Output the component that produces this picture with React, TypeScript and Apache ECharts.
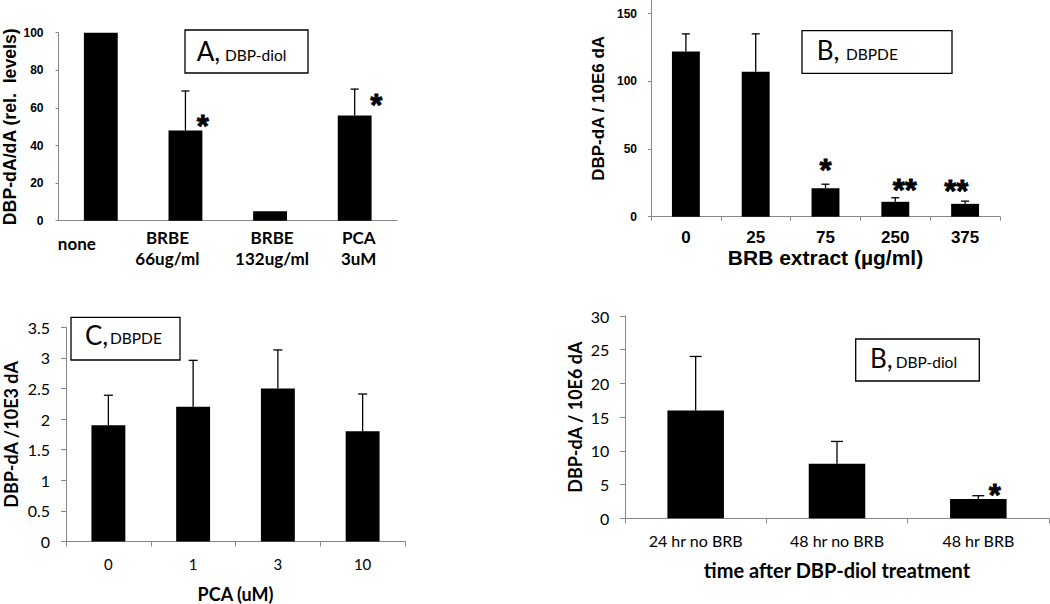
import React, { useEffect, useRef } from "react";
import * as echarts from "echarts";

// ---------- Panel A ----------
const aCategories = ["none", "BRBE\n66ug/ml", "BRBE\n132ug/ml", "PCA\n3uM"];
const aValues = [100, 48, 5, 56];
const aErrors = [0, 21, 0, 14];
const aStars = ["", "*", "", "*"];
const aYTitle = "DBP-dA/dA (rel.  levels)";
const aBoxLetter = "A,";
const aBoxText = "DBP-diol";

// ---------- Panel B (top right) ----------
const bCategories = ["0", "25", "75", "250", "375"];
const bValues = [122, 107, 21, 11, 9.5];
const bErrors = [13, 28, 3, 3, 2];
const bStars = ["", "", "*", "**", "**"];
const bYTicks = [0, 50, 100, 150];
const bYTitle = "DBP-dA / 10E6 dA";
const bXTitle = "BRB extract (\u00b5g/ml)";
const bBoxLetter = "B,";
const bBoxText = "DBPDE";

// ---------- Panel C ----------
const cCategories = ["0", "1", "3", "10"];
const cValues = [1.9, 2.2, 2.5, 1.8];
const cErrors = [0.49, 0.76, 0.63, 0.61];
const cYTitle = "DBP-dA /10E3 dA";
const cXTitle = "PCA (uM)";
const cBoxLetter = "C,";
const cBoxText = "DBPDE";

// ---------- Panel D (bottom right) ----------
const dCategories = ["24 hr no BRB", "48 hr no BRB", "48 hr BRB"];
const dValues = [16, 8.1, 2.85];
const dErrors = [8, 3.3, 0.5];
const dStars = ["", "", "*"];
const dYTitle = "DBP-dA / 10E6 dA";
const dXTitle = "time after DBP-diol treatment";
const dBoxLetter = "B,";
const dBoxText = "DBP-diol";

const AXIS_GRAY = "#878787";
const ARIAL = "Liberation Sans, Arial, sans-serif";
const CALI = "Lato, Open Sans, sans-serif";

function errorSeries(idx: number, values: number[], errors: number[], cap: number) {
  return {
    type: "custom",
    xAxisIndex: idx,
    yAxisIndex: idx,
    z: 5,
    silent: true,
    data: values
      .map((v, i) => [i, v, v + errors[i]])
      .filter((d) => d[2] > d[1]),
    encode: { x: 0, y: [1, 2] },
    renderItem: (params: any, api: any) => {
      const b = api.coord([api.value(0), api.value(1)]);
      const t = api.coord([api.value(0), api.value(2)]);
      const st = { stroke: "#000", lineWidth: 1.3 };
      return {
        type: "group",
        children: [
          { type: "line", shape: { x1: b[0], y1: b[1], x2: t[0], y2: t[1] }, style: st },
          { type: "line", shape: { x1: t[0] - cap, y1: t[1], x2: t[0] + cap, y2: t[1] }, style: st },
        ],
      };
    },
  };
}

function starSeries(idx: number, values: number[], stars: string[], offsets: number[][]) {
  const data: any[] = [];
  values.forEach((v, i) => {
    if (stars[i]) {
      data.push({
        value: [i, v, stars[i]],
        label: { offset: offsets[i] },
      });
    }
  });
  const starLabel = {
    show: true,
    position: "inside",
    formatter: (p: any) => p.data.value[2],
    fontFamily: ARIAL,
    fontWeight: "bold",
    fontSize: 31,
    color: "#000",
    opacity: 1,
    textBorderColor: "#000",
    textBorderWidth: 0.8,
    align: "center",
    verticalAlign: "middle",
  };
  return {
    type: "scatter",
    xAxisIndex: idx,
    yAxisIndex: idx,
    z: 6,
    silent: true,
    symbolSize: 0,
    color: "#000",
    itemStyle: { color: "#000" },
    data,
    label: starLabel,
    emphasis: { disabled: true },
  };
}

function barSeries(idx: number, values: number[]) {
  return {
    type: "bar",
    xAxisIndex: idx,
    yAxisIndex: idx,
    barWidth: "40%",
    itemStyle: { color: "#000" },
    data: values,
    z: 2,
  };
}

function box(x: number, y: number, w: number, h: number, letter: string, text: string,
  lx: number, tx: number, baseline: number, bigSize: number, smallSize: number) {
  return {
    type: "group",
    children: [
      { type: "rect", shape: { x, y, width: w, height: h }, style: { fill: "#fff", stroke: "#000", lineWidth: 1.3 } },
      {
        type: "text", x: lx, y: baseline - 0.36 * bigSize,
        style: { text: letter, font: `${bigSize}px ${CALI}`, fill: "#000", align: "left", verticalAlign: "middle" },
      },
      {
        type: "text", x: tx, y: baseline - 0.36 * smallSize,
        style: { text: text, font: `${smallSize}px ${CALI}`, fill: "#000", align: "left", verticalAlign: "middle" },
      },
    ],
  };
}

const aLabelPad = [[6, 48, 0, 0], [0, 36, 0, 0], [0, 0, 0, 4], [0, 0, 0, 8]];

export default function App() {
  const ref = useRef<HTMLDivElement>(null);
  useEffect(() => {
    if (!ref.current) return;
    const chart = echarts.init(ref.current, null, { renderer: "svg" });
    const axisLine = { show: true, lineStyle: { color: AXIS_GRAY, width: 1 } };
    const option: any = {
      animation: false,
      backgroundColor: "#fff",
      color: ["#000"],
      grid: [
        { left: 58, top: 32.7, width: 339, height: 188 },
        { left: 651, top: 0, width: 349, height: 216.7 },
        { left: 66, top: 327.3, width: 339, height: 215 },
        { left: 625, top: 316, width: 424, height: 202.3 },
      ],
      xAxis: [
        {
          type: "category", gridIndex: 0,
          data: aCategories.map((c, i) => ({ value: c, textStyle: { padding: aLabelPad[i] } })),
          axisLine, axisTick: { show: false },
          axisLabel: {
            margin: 6.6, verticalAlign: "top", lineHeight: 20.5, interval: 0,
            fontFamily: CALI, fontWeight: "bold", fontSize: 17, color: "#000",
          },
        },
        {
          type: "category", gridIndex: 1, data: bCategories,
          axisLine, axisTick: { show: true, length: 4, lineStyle: { color: AXIS_GRAY } },
          axisLabel: { margin: 12, fontFamily: ARIAL, fontWeight: "bold", fontSize: 17, color: "#000" },
          name: bXTitle, nameLocation: "middle", nameGap: 30, nameMoveOverlap: false,
          nameTextStyle: { fontFamily: ARIAL, fontWeight: "bold", fontSize: 21, color: "#000" },
        },
        {
          type: "category", gridIndex: 2, data: cCategories,
          axisLine, axisTick: { show: true, length: 5, lineStyle: { color: AXIS_GRAY } },
          axisLabel: { margin: 14.5, fontFamily: CALI, fontSize: 15, color: "#000" },
          name: cXTitle, nameLocation: "middle", nameGap: 43.5, nameMoveOverlap: false,
          nameTextStyle: { fontFamily: CALI, fontWeight: "bold", fontSize: 18, color: "#000" },
        },
        {
          type: "category", gridIndex: 3, data: dCategories,
          axisLine, axisTick: { show: true, length: 5, lineStyle: { color: AXIS_GRAY } },
          axisLabel: { margin: 14, fontFamily: CALI, fontSize: 16, color: "#000" },
          name: dXTitle, nameLocation: "middle", nameGap: 42, nameMoveOverlap: false,
          nameTextStyle: { fontFamily: CALI, fontWeight: "bold", fontSize: 20, color: "#000" },
        },
      ],
      yAxis: [
        {
          type: "value", gridIndex: 0, min: 0, max: 100, interval: 20,
          axisLine, axisTick: { show: true, length: 3, lineStyle: { color: AXIS_GRAY } },
          splitLine: { show: false },
          axisLabel: { margin: 15, fontFamily: ARIAL, fontWeight: "bold", fontSize: 12, color: "#000" },
          name: aYTitle, nameLocation: "middle", nameRotate: 90, nameGap: 39.5, nameMoveOverlap: false,
          nameTextStyle: { fontFamily: ARIAL, fontWeight: "bold", fontSize: 17.7, color: "#000" },
        },
        {
          type: "value", gridIndex: 1, min: 0, max: 160,
          axisLine, axisTick: { show: true, length: 3, customValues: bYTicks, lineStyle: { color: AXIS_GRAY } },
          splitLine: { show: false },
          axisLabel: { margin: 14, customValues: bYTicks, fontFamily: ARIAL, fontWeight: "bold", fontSize: 12, color: "#000" },
          name: bYTitle, nameLocation: "middle", nameRotate: 90, nameGap: 44.5, nameMoveOverlap: false,
          nameTextStyle: { fontFamily: ARIAL, fontWeight: "bold", fontSize: 17, color: "#000" },
        },
        {
          type: "value", gridIndex: 2, min: 0, max: 3.5, interval: 0.5,
          axisLine, axisTick: { show: true, length: 5, lineStyle: { color: AXIS_GRAY } },
          splitLine: { show: false },
          axisLabel: { margin: 16, fontFamily: CALI, fontSize: 16, color: "#000" },
          name: cYTitle, nameLocation: "middle", nameRotate: 90, nameGap: 46.5, nameMoveOverlap: false,
          nameTextStyle: { fontFamily: CALI, fontWeight: "bold", fontSize: 18, color: "#000" },
        },
        {
          type: "value", gridIndex: 3, min: 0, max: 30, interval: 5,
          axisLine, axisTick: { show: true, length: 5, lineStyle: { color: AXIS_GRAY } },
          splitLine: { show: false },
          axisLabel: { margin: 15.7, fontFamily: CALI, fontSize: 16, color: "#000" },
          name: dYTitle, nameLocation: "middle", nameRotate: 90, nameGap: 41, nameMoveOverlap: false,
          nameTextStyle: { fontFamily: CALI, fontWeight: "bold", fontSize: 18, color: "#000" },
        },
      ],
      series: [
        barSeries(0, aValues),
        errorSeries(0, aValues, aErrors, 4),
        starSeries(0, aValues, aStars, [[0, 0], [17.3, -4], [0, 0], [21.5, -10]]),
        barSeries(1, bValues),
        errorSeries(1, bValues, bErrors, 4),
        starSeries(1, bValues, bStars, [[0, 0], [0, 0], [0, -17.5], [9.4, -11.5], [-8.9, -12]]),
        barSeries(2, cValues),
        errorSeries(2, cValues, cErrors, 4.5),
        barSeries(3, dValues),
        errorSeries(3, dValues, dErrors, 6),
        starSeries(3, dValues, dStars, [[0, 0], [0, 0], [16.5, -4]]),
      ],
      graphic: [
        box(185, 30, 123, 43, aBoxLetter, aBoxText, 196.7, 225, 60.5, 26, 15.5),
        box(802, 30.7, 150, 42.6, bBoxLetter, bBoxText, 816.7, 846, 59.7, 26, 15.5),
        box(71, 317.3, 109, 42.7, cBoxLetter, cBoxText, 85, 110, 344, 26, 15.5),
        box(855.7, 339, 123.6, 42, dBoxLetter, dBoxText, 870, 895.7, 367.3, 26, 15.5),
      ],
    };
    chart.setOption(option);
    return () => chart.dispose();
  }, []);
  return (
    <div
      ref={ref}
      style={{ position: "fixed", left: 0, top: 0, width: 1050, height: 604, background: "#fff" }}
    />
  );
}
